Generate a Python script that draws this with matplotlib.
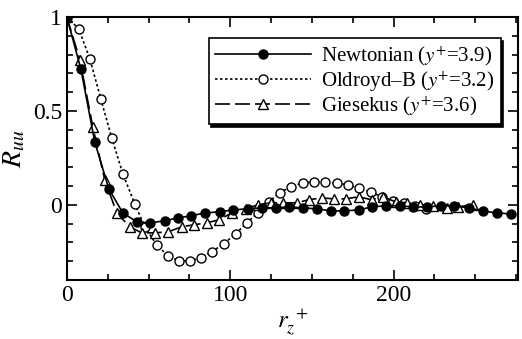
import matplotlib
matplotlib.use("Agg")
import matplotlib.pyplot as plt
from matplotlib.ticker import MultipleLocator

plt.rcParams['font.family'] = ['Liberation Serif', 'DejaVu Serif']
plt.rcParams['mathtext.fontset'] = 'stix'

# Newtonian (y+=3.9)
newt_x = [0, 8.6, 17.1, 25.7, 34.3, 42.8, 50.8, 59.9, 67.9, 75.8, 84.4, 93.6, 101.5,
          110.7, 119.3, 127.8, 135.8, 144.3, 152.9, 161.5, 169.4, 178.6, 186.5, 195.1,
          203.7, 211.6, 220.2, 228.7, 236.7, 245.9, 254.4, 263.0, 271.6]
newt_y = [1.0, 0.723, 0.335, 0.085, -0.043, -0.090, -0.096, -0.085, -0.069, -0.059,
          -0.043, -0.037, -0.027, -0.021, -0.016, -0.016, -0.011, -0.016, -0.021, -0.032,
          -0.032, -0.027, -0.011, -0.005, -0.005, -0.011, -0.011, -0.005, -0.005, -0.016,
          -0.032, -0.043, -0.048]

# Oldroyd-B (y+=3.2)
old_x = [0, 7.3, 14.1, 20.8, 27.5, 34.3, 41.6, 47.7, 55.0, 61.8, 68.5, 75.2, 81.9,
         88.7, 96.0, 103.4, 110.1, 116.8, 123.5, 130.3, 137.0, 144.3, 151.1, 157.8,
         165.1, 171.9, 178.6, 185.9, 192.7, 199.4, 206.1, 212.8, 219.6]
old_y = [1.0, 0.936, 0.777, 0.564, 0.356, 0.165, 0.005, -0.117, -0.213, -0.271, -0.298,
         -0.298, -0.282, -0.250, -0.207, -0.154, -0.096, -0.043, 0.016, 0.064, 0.096,
         0.117, 0.122, 0.122, 0.117, 0.106, 0.090, 0.069, 0.043, 0.021, 0.011, -0.005,
         -0.021]

# Giesekus (y+=3.6)
gies_x = [0, 8.0, 15.9, 23.2, 30.6, 38.5, 45.9, 53.8, 61.8, 70.3, 77.7, 85.6, 93.0,
          100.9, 109.5, 116.8, 124.8, 132.1, 140.7, 148.0, 156.0, 163.3, 170.6, 178.6,
          186.5, 193.3, 201.2, 207.9, 215.9, 223.9, 232.4, 239.1, 248.3]
gies_y = [1.0, 0.771, 0.415, 0.133, -0.043, -0.117, -0.149, -0.149, -0.144, -0.117,
          -0.106, -0.096, -0.080, -0.043, -0.021, 0.000, 0.011, 0.011, 0.011, 0.027,
          0.037, 0.032, 0.032, 0.043, 0.027, 0.043, 0.016, 0.011, 0.000, -0.005, -0.016,
          -0.011, 0.000]

fig = plt.figure(figsize=(5.22, 3.39), dpi=100)
ax = fig.add_axes([0.128, 0.174, 0.864, 0.776])

ax.plot(newt_x, newt_y, '-', color='k', lw=1.2, marker='o', ms=6.5, mfc='k', mec='k',
        label='Newtonian ($y^{+}$=3.9)', zorder=3)
ax.plot(old_x, old_y, color='k', lw=1.2, ls=(0, (1.5, 1.5)), marker='o', ms=6.5,
        mfc='white', mec='k', mew=1.0, label='Oldroyd\u2013B ($y^{+}$=3.2)', zorder=2)
ax.plot(gies_x, gies_y, color='k', lw=1.2, ls=(0, (9, 3)), marker='^', ms=6.5,
        mfc='white', mec='k', mew=1.0, label='Giesekus ($y^{+}$=3.6)', zorder=2)

ax.set_xlim(0, 276)
ax.set_ylim(-0.4, 1.0)
ax.xaxis.set_major_locator(MultipleLocator(100))
ax.xaxis.set_minor_locator(MultipleLocator(25))
ax.yaxis.set_major_locator(MultipleLocator(0.5))
ax.yaxis.set_minor_locator(MultipleLocator(0.1))
ax.set_yticks([0, 0.5, 1.0])
ax.set_yticklabels(['0', '0.5', '1'])
ax.tick_params(which='both', direction='in', top=True, right=True, labelsize=17, width=1.2)
ax.tick_params(which='major', length=7)
ax.tick_params(which='minor', length=4)
for s in ax.spines.values():
    s.set_linewidth(1.5)

ax.set_xlabel('$r_z^{\\ +}$', fontsize=18, labelpad=0)
ax.set_ylabel('$R_{uu}$', fontsize=20, labelpad=4)

leg = ax.legend(loc='upper right', bbox_to_anchor=(0.962, 0.92), fontsize=15, numpoints=1,
                handlelength=4.6, frameon=True, fancybox=False, edgecolor='k',
                shadow={'color': 'k', 'alpha': 1}, borderpad=0.3, labelspacing=0.05,
                handletextpad=0.5, borderaxespad=0)
leg.get_frame().set_linewidth(1.2)

fig.savefig('out.png', dpi=100)
